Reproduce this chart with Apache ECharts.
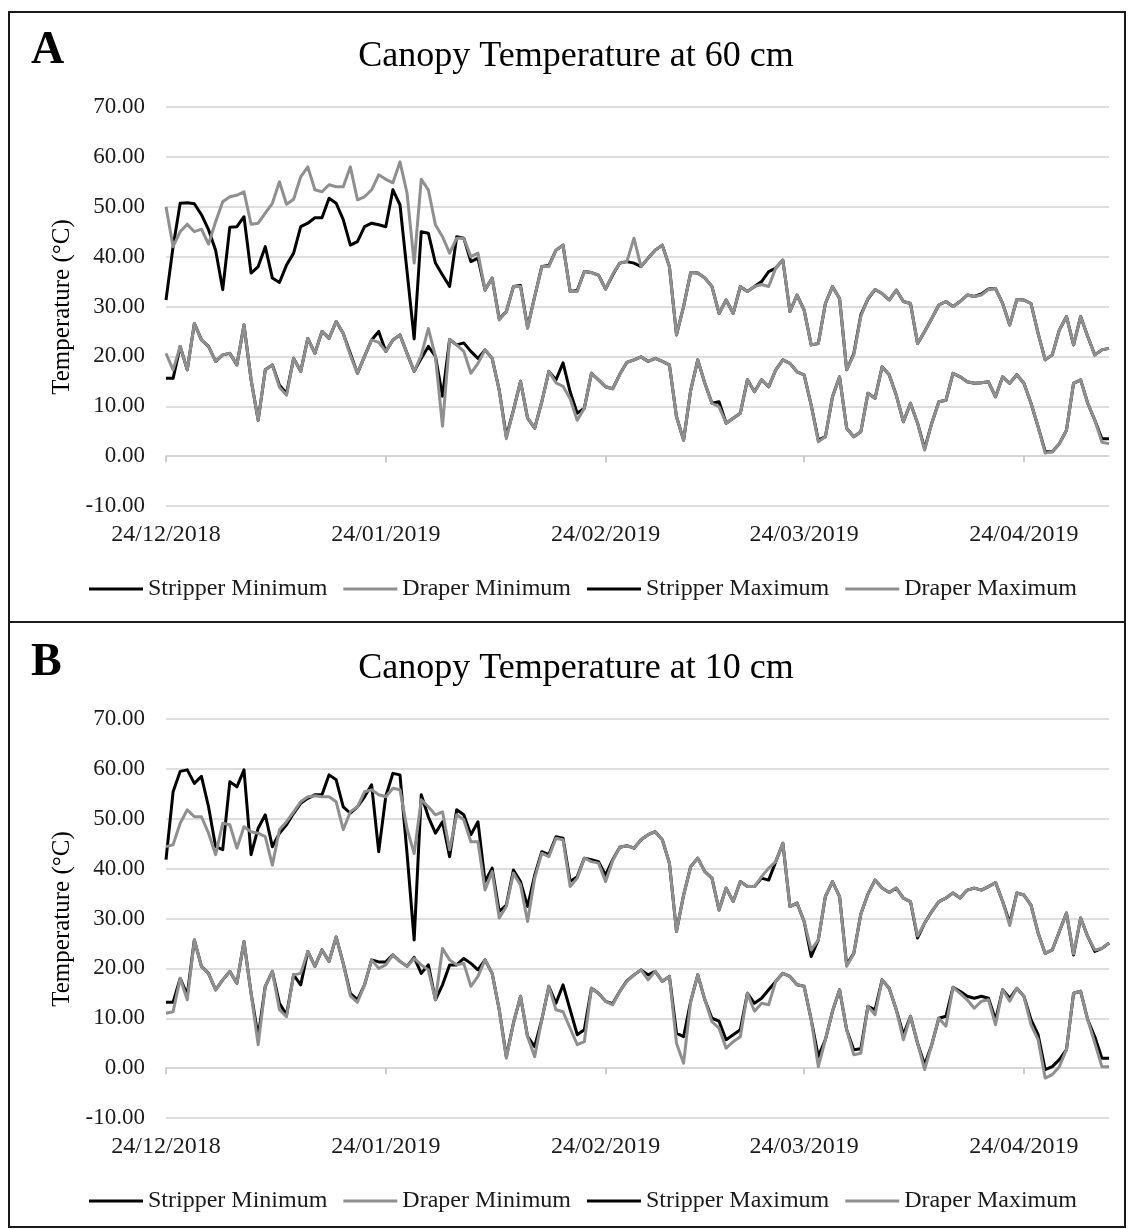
<!DOCTYPE html>
<html>
<head>
<meta charset="utf-8">
<title>Canopy Temperature</title>
<script src="https://cdn.jsdelivr.net/npm/echarts@6/dist/echarts.min.js"></script>
<style>
  html, body { margin: 0; padding: 0; background: #fff; }
  #chart { width: 1128px; height: 1229px; }
</style>
</head>
<body>
<div id="chart"></div>
<script>
// daily readings, first day 24/12/2018
var dayCount = 134;
var tickLabels = ['24/12/2018', '24/01/2019', '24/02/2019', '24/03/2019', '24/04/2019'];
var seriesNames = ['Stripper Minimum', 'Draper Minimum', 'Stripper Maximum', 'Draper Maximum'];

// panel A, 60 cm
var stripperMin60 = [15.6, 15.6, 22, 17.3, 26.6, 23.3, 22, 19, 20.3, 20.6, 18.3, 26.3, 15.3, 7.2, 17.3, 18.3, 14.2, 12.6, 19.6, 17,
  23.6, 20.6, 25, 23.6, 27, 24.6, 20.6, 16.6, 20, 23.3, 25, 21, 23.3, 24.3, 20.6, 17, 19.6, 22, 20, 12,
  23.4, 22.3, 22.7, 21, 19.6, 21.3, 19.6, 13.2, 3.9, 9.2, 15, 7.6, 5.6, 10.9, 17, 15.3, 18.7, 12.9, 8.6, 9.6,
  16.6, 15.3, 13.9, 13.5, 16.4, 18.8, 19.3, 19.9, 19, 19.6, 19, 18.3, 7.9, 3.2, 13.2, 19.3, 14.6, 10.6, 10.9, 6.6,
  7.6, 8.6, 15.3, 12.9, 15.3, 13.9, 17.3, 19.3, 18.6, 16.9, 16.3, 10.2, 3.2, 3.9, 11.9, 15.9, 5.6, 3.9, 4.9, 12.6,
  11.6, 17.9, 16.3, 12.2, 6.9, 10.6, 6.6, 1.5, 6.6, 10.9, 11.2, 16.6, 15.9, 14.9, 14.6, 14.7, 14.9, 11.9, 15.9, 14.6,
  16.3, 14.6, 10.6, 5.9, 0.9, 0.9, 2.5, 5.2, 14.6, 15.3, 10.6, 7.2, 3.5, 3.5];
var draperMin60 = [20.6, 17.3, 22, 17.3, 26.6, 23.3, 22, 19, 20.3, 20.6, 18.3, 26.3, 15.3, 7.2, 17.3, 18.3, 13.8, 12.2, 19.6, 17,
  23.6, 20.6, 25, 23.6, 27, 24.6, 20.2, 16.6, 20, 23.3, 22.8, 21, 23.3, 24.3, 20.6, 17, 20.2, 25.6, 20, 6,
  23.4, 22.3, 21, 16.6, 18.6, 21.3, 19.6, 13.2, 3.5, 9.2, 15, 7.6, 5.6, 10.9, 17, 14.7, 14, 11.5, 7.2, 9.6,
  16.6, 15.3, 13.9, 13.5, 16.4, 18.8, 19.3, 19.9, 19, 19.6, 19, 18.3, 7.9, 3.2, 13.2, 19.3, 14.6, 10.6, 9.9, 6.6,
  7.6, 8.6, 15.3, 12.9, 15.3, 13.9, 17.3, 19.3, 18.6, 16.9, 16.3, 10.2, 2.9, 3.9, 11.9, 15.9, 5.6, 3.9, 4.9, 12.6,
  11.6, 17.9, 16.3, 12.2, 6.9, 10.6, 6.6, 1.2, 6.6, 10.9, 11.2, 16.6, 15.9, 14.9, 14.6, 14.7, 14.9, 11.9, 15.9, 14.6,
  16.3, 14.6, 10.6, 5.9, 0.6, 0.9, 2.5, 5.2, 14.6, 15.3, 10.6, 7.2, 2.8, 2.5];
var stripperMax60 = [31.3, 42, 50.7, 50.8, 50.6, 48.4, 45.4, 41.3, 33.4, 45.9, 46, 48, 36.7, 38, 42, 35.7, 34.8, 38.3, 40.7, 46,
  46.7, 47.8, 47.8, 51.7, 50.7, 47.4, 42.3, 43, 46, 46.7, 46.4, 46, 53.4, 50.4, 37, 23.5, 45, 44.7, 38.7, 36.3,
  34, 44, 43.7, 39, 39.7, 33.3, 35.7, 27.5, 29, 34, 34.2, 25.8, 32, 38, 38.2, 41.3, 42.3, 33, 33.2, 37,
  36.8, 36.3, 33.5, 36.3, 38.7, 39, 38.7, 38, 39.7, 41.3, 42.3, 38, 24.3, 30, 36.8, 36.7, 35.7, 34, 28.6, 31.3,
  28.6, 34, 33, 34, 35, 37, 37.7, 39.3, 29, 32.3, 29.3, 22.3, 22.6, 30.6, 34, 31.6, 17.3, 20.5, 28.3, 31.5,
  33.4, 32.6, 31.3, 33.3, 31, 30.6, 22.6, 25, 27.6, 30.3, 31, 30, 31, 32.3, 32, 32.5, 33.5, 33.6, 30.6, 26.3,
  31.4, 31.3, 30.6, 24.6, 19.3, 20.3, 25.3, 28, 22.3, 28, 24, 20.3, 21.3, 21.6];
var draperMax60 = [50, 42, 45, 46.5, 45, 45.5, 42.5, 47, 51, 52, 52.3, 53, 46.5, 46.7, 48.7, 50.7, 55, 50.5, 51.5, 56,
  58, 53.4, 53, 54.4, 54, 54, 58, 51.4, 52, 53.4, 56.4, 55.5, 54.8, 59, 52.7, 38.7, 55.5, 53.4, 46.4, 44,
  40.7, 43.7, 43.7, 40, 40.7, 33.3, 35.7, 27.3, 29, 34, 34, 25.6, 32, 38, 38, 41.3, 42.3, 33, 33, 37,
  36.8, 36.3, 33.5, 36.5, 38.7, 39, 43.7, 38, 39.7, 41.3, 42.3, 38, 24.3, 30, 36.8, 36.7, 35.7, 34, 28.6, 31.3,
  28.6, 34, 33, 34, 34.4, 34, 37.7, 39.3, 29, 32.3, 29.3, 22.3, 22.6, 30.6, 34, 31.6, 17.3, 20.3, 28, 31.6,
  33.4, 32.6, 31.3, 33.3, 31, 30.6, 22.6, 25, 27.6, 30.3, 31, 30, 31, 32.3, 32, 32.3, 33.4, 33.6, 30.6, 26.3,
  31.4, 31.3, 30.6, 24.6, 19.3, 20.3, 25.3, 28, 22.3, 28, 24, 20.3, 21.3, 21.6];

// panel B, 10 cm
var stripperMin10 = [13.2, 13.2, 18, 14.7, 25.7, 20.4, 19, 15.7, 17.7, 19.4, 17, 25.4, 15, 6.3, 16.4, 19.4, 13, 10.7, 18.7, 16.7,
  23.4, 20.4, 23.7, 21.4, 26.3, 21, 15, 13.7, 16.7, 21.7, 21.3, 21.3, 22.7, 21.4, 20.4, 22.2, 19, 20.7, 13.7, 16.7,
  20.7, 20.7, 22, 21, 19.7, 21.7, 19, 11.7, 2.3, 9, 14.4, 6.3, 4.3, 9.7, 16.4, 13, 16.7, 11.7, 6.7, 7.7,
  16, 15, 13.4, 12.9, 15.4, 17.5, 18.7, 19.7, 18.7, 19.4, 17.4, 18.4, 7, 6.3, 13.4, 18.7, 13.7, 10, 9.4, 5.7,
  6.7, 7.7, 15, 13, 14, 15.7, 17.4, 19, 18.4, 16.7, 16.4, 9.7, 2.3, 5.7, 11.4, 15.7, 7.7, 3.7, 3.9, 12.4,
  11.7, 17.7, 16, 11.7, 6.7, 10.4, 5, 0.7, 4.7, 10, 10.4, 16.2, 15.4, 14.4, 14, 14.4, 14, 9.7, 15.7, 14,
  16, 14.4, 9.7, 6.7, -0.3, 0.3, 1.7, 3.7, 15, 15.4, 9.7, 6.3, 2, 2];
var draperMin10 = [11, 11.3, 18, 13.7, 25.7, 20.4, 19, 15.7, 17.7, 19.4, 17, 25.4, 15, 4.7, 16.4, 19.4, 11.7, 10.3, 18.7, 19,
  23.4, 20.4, 23.7, 21.4, 26.3, 21, 14.5, 13.2, 16.7, 21.7, 20, 20.7, 22.7, 21.4, 20.4, 22, 20.7, 19.7, 13.7, 24,
  21.7, 20.7, 21, 16.4, 18.4, 21.7, 19, 11.7, 2, 9, 14.4, 6.3, 2.3, 9.7, 16.4, 11.7, 11.3, 8, 4.7, 5.3,
  16, 15, 13.4, 12.7, 15.4, 17.4, 18.7, 19.7, 17.7, 19.4, 17.4, 18.4, 5, 1, 13.4, 18.7, 13.7, 9.3, 8, 4,
  5.3, 6.3, 15, 11.4, 13, 12.7, 17.4, 19, 18.4, 16.7, 16.4, 9.7, 0.3, 5.7, 11.4, 15.7, 7.7, 2.7, 3, 12.4,
  10.7, 17.7, 16, 11.7, 5.7, 10.4, 5, -0.3, 4.7, 10, 8.4, 16.2, 15, 13.7, 12, 13.4, 13.7, 8.7, 15.7, 13.4,
  16, 14.4, 8.7, 5.7, -2, -1.3, 0.3, 3.7, 15, 15.4, 9.7, 5, 0.3, 0.3];
var stripperMax10 = [41.8, 55.4, 59.5, 59.8, 57.1, 58.5, 52.4, 44.4, 43.8, 57.4, 56.4, 59.8, 42.8, 48.1, 50.8, 44.4, 47.1, 48.8, 51.1, 53.1,
  54.1, 54.8, 54.8, 58.8, 57.8, 52.4, 51.1, 52.4, 54.4, 56.8, 43.4, 54.5, 59.1, 58.8, 43, 25.7, 54.8, 50.4, 47.1, 49.4,
  42.4, 51.8, 50.8, 46.8, 49.4, 37.4, 40.1, 31.4, 32.7, 39.7, 37.4, 32.4, 38.7, 43.4, 42.8, 46.4, 46.1, 37.4, 38.4, 42.1,
  41.8, 41.4, 38.7, 41.8, 44.3, 44.6, 44.1, 45.8, 46.8, 47.4, 45.8, 41.1, 27.4, 34.7, 40.4, 42.1, 39.4, 38.1, 31.7, 36.1,
  33.4, 37.4, 36.4, 36.4, 38.1, 37.7, 41.4, 45.1, 32.4, 33.1, 29.4, 22.4, 25.7, 34.4, 37.4, 34.4, 20.7, 23, 30.9, 34.9,
  37.7, 36.1, 35.2, 36.1, 34.1, 33.4, 26.1, 29.1, 31.4, 33.4, 34.1, 35.1, 34.1, 35.7, 36.1, 35.7, 36.4, 37.2, 33.4, 29.1,
  35.1, 34.7, 32.7, 27.1, 23, 23.7, 27.4, 31.1, 22.7, 30.1, 26.4, 23.4, 24, 25.1];
var draperMax10 = [44.4, 44.8, 49.1, 51.8, 50.4, 50.4, 47.1, 42.8, 49.1, 48.8, 44.1, 48.4, 47.4, 47.1, 46.4, 40.7, 47.8, 49.4, 51.4, 53.4,
  54.4, 54.6, 54.4, 54.4, 53.4, 47.8, 51.4, 52.4, 55.4, 55.8, 54.8, 54.4, 56.1, 55.8, 48, 43, 53.8, 52.4, 50.8, 51.4,
  43.8, 50.8, 49.8, 45.4, 45.4, 35.7, 39.4, 30.1, 32.4, 39.1, 36.7, 29.4, 38.1, 43.1, 42.4, 46.1, 45.8, 36.4, 38.1, 42.1,
  41.4, 41.1, 37.4, 41.6, 44.3, 44.6, 44.1, 45.8, 46.8, 47.4, 45.8, 41.1, 27.4, 34.7, 40.4, 42.1, 39.4, 38.1, 31.7, 36.1,
  33.4, 37.4, 36.4, 36.4, 38.4, 40.1, 41.4, 45.1, 32.4, 33.1, 29.4, 23.7, 25.7, 34.4, 37.4, 34.4, 20.4, 23, 30.9, 34.9,
  37.7, 36.1, 35.2, 36.1, 34.1, 33.4, 26.5, 29.1, 31.4, 33.4, 34.1, 35.1, 34.1, 35.7, 36.1, 35.7, 36.4, 37.2, 33.4, 28.6,
  35.1, 34.7, 32.7, 27.1, 23, 23.7, 27.4, 31.1, 22.9, 30.1, 26.4, 23.7, 24, 25.1];

var dates = [];
for (var i = 0; i < dayCount; i++) {
  var d = new Date(Date.UTC(2018, 11, 24 + i));
  var dd = ('0' + d.getUTCDate()).slice(-2);
  var mm = ('0' + (d.getUTCMonth() + 1)).slice(-2);
  dates.push(dd + '/' + mm + '/' + d.getUTCFullYear());
}

var serif = 'Liberation Serif, "Times New Roman", serif';
var black = '#000000';
var grey = '#8f8f8f';
var gridLine = '#d3d3d3';
var panelShift = 612;

function isTick(index, value) {
  return tickLabels.indexOf(value) >= 0;
}

function makeX(i) {
  return {
    type: 'category',
    gridIndex: i,
    data: dates,
    boundaryGap: false,
    axisLine: { lineStyle: { color: gridLine, width: 1.5 } },
    axisTick: { show: true, interval: isTick, length: 6, lineStyle: { color: '#bdbdbd', width: 1.5 } },
    axisLabel: { interval: isTick, color: '#1a1a1a', fontFamily: serif, fontSize: 24, margin: 17 },
    splitLine: { show: false }
  };
}

function makeY(i) {
  return {
    type: 'value',
    gridIndex: i,
    min: -10,
    max: 70,
    interval: 10,
    axisLine: { show: false },
    axisTick: { show: false },
    axisLabel: {
      color: '#1a1a1a', fontFamily: serif, fontSize: 23, margin: 21,
      formatter: function (v) { return v.toFixed(2); }
    },
    splitLine: { lineStyle: { color: gridLine, width: 1.5 } }
  };
}

function makeSeries(name, data, color, i) {
  return {
    name: name,
    type: 'line',
    xAxisIndex: i,
    yAxisIndex: i,
    data: data,
    symbol: 'none',
    lineStyle: { color: color, width: 3, join: 'round' },
    itemStyle: { color: color },
    emphasis: { disabled: true }
  };
}

function makeLegend(i) {
  return {
    data: seriesNames,
    left: 84,
    top: 572 + i * panelShift,
    icon: 'rect',
    itemWidth: 54,
    itemHeight: 3,
    itemGap: 16,
    textStyle: { color: '#1a1a1a', fontFamily: serif, fontSize: 24 }
  };
}

function panelText(i, letter, title) {
  var dy = i * panelShift;
  return [
    { type: 'text', left: 31, top: 28 + dy,
      style: { text: letter, font: 'bold 46px ' + serif, fill: '#000' } },
    { type: 'text', x: 576, y: 57 + dy,
      style: { text: title, font: '36px ' + serif, fill: '#000', align: 'center', verticalAlign: 'middle' } },
    { type: 'text', x: 62, y: 307 + dy, rotation: Math.PI / 2,
      style: { text: 'Temperature (°C)', font: '25px ' + serif, fill: '#000', align: 'center', verticalAlign: 'middle' } }
  ];
}

var chart = echarts.init(document.getElementById('chart'), null, { renderer: 'canvas' });

var option = {
  animation: false,
  backgroundColor: '#ffffff',
  grid: [
    { left: 166, top: 107, width: 943, height: 399 },
    { left: 166, top: 107 + panelShift, width: 943, height: 399 }
  ],
  xAxis: [makeX(0), makeX(1)],
  yAxis: [makeY(0), makeY(1)],
  legend: [makeLegend(0), makeLegend(1)],
  series: [
    makeSeries(seriesNames[0], stripperMin60, black, 0),
    makeSeries(seriesNames[1], draperMin60, grey, 0),
    makeSeries(seriesNames[2], stripperMax60, black, 0),
    makeSeries(seriesNames[3], draperMax60, grey, 0),
    makeSeries(seriesNames[0], stripperMin10, black, 1),
    makeSeries(seriesNames[1], draperMin10, grey, 1),
    makeSeries(seriesNames[2], stripperMax10, black, 1),
    makeSeries(seriesNames[3], draperMax10, grey, 1)
  ],
  graphic: [
    { type: 'rect', shape: { x: 9, y: 12, width: 1116, height: 1215 },
      style: { fill: 'none', stroke: '#1a1a1a', lineWidth: 2 }, silent: true },
    { type: 'line', shape: { x1: 9, y1: 622, x2: 1125, y2: 622 },
      style: { stroke: '#1a1a1a', lineWidth: 2 }, silent: true }
  ].concat(panelText(0, 'A', 'Canopy Temperature at 60 cm'), panelText(1, 'B', 'Canopy Temperature at 10 cm'))
};

chart.setOption(option);
</script>
</body>
</html>
